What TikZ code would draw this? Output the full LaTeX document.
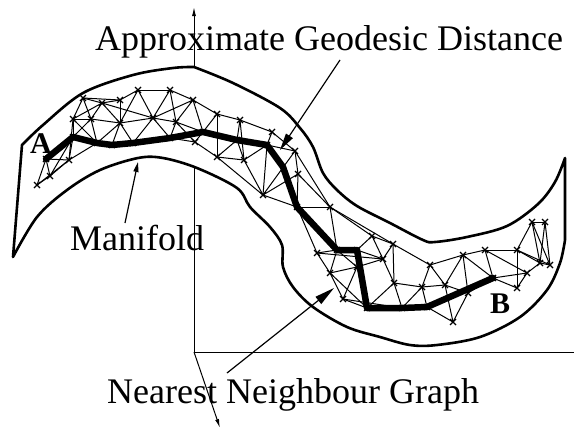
\documentclass[tikz,border=0pt]{standalone}
\usepackage{fontspec}
\setmainfont{Liberation Serif}
\usetikzlibrary{arrows.meta}
\begin{document}
\begin{tikzpicture}[x=1pt,y=-1pt,
  axis/.style={line width=1pt},
  bound/.style={line width=2.6pt, fill=white, line join=round},
  edge/.style={line width=1pt},
  xm/.style={line width=1.2pt},
  geo/.style={line width=6.5pt, line join=round, line cap=round},
  lbl/.style={font=\fontsize{36}{40}\selectfont, inner sep=0pt, anchor=base west},
  ptlbl/.style={font=\bfseries\fontsize{30}{34}\selectfont, inner sep=0pt, anchor=base west},
  ptr/.style={line width=1.2pt}
]
\useasboundingbox (0,0) rectangle (575,431);
% axes
\coordinate (O) at (194,352);
\coordinate (Z) at (194,7);
\coordinate (Xe) at (574,352);
\coordinate (Ye) at (220,428);
\draw[axis,-{Latex[length=9pt,width=4pt]}] (O) -- (Z);
\draw[axis] (O) -- (Xe);
\draw[axis,-{Latex[length=9pt,width=4pt]}] (O) -- (Ye);
% manifold
\filldraw[bound] plot[smooth,tension=0.55] coordinates {(22,145) (43,125) (83,93) (133,75) (173,68) (194,67)}
 -- plot[smooth,tension=0.55] coordinates {(194,67) (233,83) (280,108) (300,128) (313,147) (323,173) (337,190) (357,206) (390,223) (423,240) (435,242) (467,237) (507,226) (538,204) (555,182) (565,158)}
 -- (565,240)
 -- plot[smooth,tension=0.55] coordinates {(565,240) (560,263) (547,290) (520,317) (480,337) (437,345) (410,345) (380,337) (347,327) (313,307) (293,287) (283,267) (282,245) (270,227) (250,207) (237,188) (197,168) (163,158) (138,158) (100,170) (67,190) (37,217) (13,257)}
 -- cycle;
% graph vertices
\coordinate (a1) at (37,185);
\coordinate (a2) at (50,176);
\coordinate (a3) at (46,159);
\coordinate (a4) at (69,160);
\coordinate (a5) at (73,137);
\coordinate (a6) at (73,119);
\coordinate (a7) at (83,98);
\coordinate (a8) at (91,119);
\coordinate (a9) at (102,103);
\coordinate (a10) at (120,100);
\coordinate (a11) at (120,123);
\coordinate (a12) at (97,143);
\coordinate (a13) at (112,145);
\coordinate (a14) at (133,143);
\coordinate (a15) at (138,90);
\coordinate (a16) at (170,90);
\coordinate (a17) at (153,118);
\coordinate (a18) at (176,122);
\coordinate (a19) at (170,138);
\coordinate (a20) at (193,100);
\coordinate (a21) at (195,142);
\coordinate (a22) at (203,132);
\coordinate (a23) at (217,114);
\coordinate (a24) at (217,157);
\coordinate (a25) at (240,120);
\coordinate (a26) at (237,140);
\coordinate (a27) at (244,160);
\coordinate (a28) at (272,132);
\coordinate (a29) at (267,145);
\coordinate (a30) at (263,195);
\coordinate (a31) at (295,151);
\coordinate (a32) at (298,174);
\coordinate (a33) at (297,207);
\coordinate (a34) at (330,207);
\coordinate (a35) at (317,253);
\coordinate (a36) at (337,250);
\coordinate (a37) at (357,250);
\coordinate (a38) at (372,236);
\coordinate (a39) at (393,244);
\coordinate (a40) at (383,259);
\coordinate (a41) at (330,273);
\coordinate (a42) at (357,267);
\coordinate (a43) at (343,299);
\coordinate (a44) at (367,308);
\coordinate (a45) at (394,283);
\coordinate (a46) at (402,308);
\coordinate (a47) at (427,307);
\coordinate (a48) at (430,265);
\coordinate (a49) at (422,287);
\coordinate (a50) at (445,285);
\coordinate (a51) at (453,322);
\coordinate (a52) at (463,255);
\coordinate (a53) at (485,250);
\coordinate (a54) at (468,293);
\coordinate (a55) at (493,278);
\coordinate (a56) at (517,250);
\coordinate (a57) at (517,288);
\coordinate (a58) at (527,273);
\coordinate (a59) at (532,222);
\coordinate (a60) at (545,222);
\coordinate (a61) at (540,263);
\coordinate (a62) at (550,265);
\coordinate (pb) at (283,167);
% graph edges
\foreach \u/\v in {1/2,1/3,1/4,2/3,2/4,2/5,3/4,4/5,4/12,4/6,5/6,5/8,6/7,6/8,6/9,7/9,7/8,7/10,8/9,8/11,8/12,9/10,9/11,10/11,10/15,11/12,11/13,11/17,11/14,12/13,13/14,14/17,15/17,15/16,15/11,16/17,16/18,16/20,17/18,17/19,18/19,18/20,18/22,18/21,19/21,20/23,20/22,21/24,21/22,22/23,23/25,23/24,24/27,24/26,25/28,25/26,26/27,27/29,27/30,28/29,28/31,29/31,29/30,30/32,30/31,30/33,31/32,32/33,32/34,33/34,33/35,34/38,34/36,35/36,35/41,35/40,36/41,36/37,37/38,37/40,37/42,38/39,38/40,39/40,39/48,39/45,40/42,40/45,41/42,41/43,42/43,42/44,43/44,44/45,44/46,45/46,45/49,46/49,46/47,47/49,47/51,48/49,48/50,48/52,49/50,50/51,50/54,51/54,52/53,52/54,53/55,53/56,53/58,54/55,55/57,56/57,56/59,56/61,57/58,58/61,59/60,59/62,59/61,60/61,60/62,61/62,56/62,24/30,34/39,9/17,6/12,14/19,17/20,22/26,25/27,26/29,31/34,36/42,41/44,43/46,50/52,52/55,55/58}
  \draw[edge] (a\u) -- (a\v);
\foreach \i in {1,...,62}
  \draw[xm] (a\i) +(-3,-3) -- +(3,3) +(-3,3) -- +(3,-3);
% geodesic path
\draw[geo] (a3) -- (a5) -- (a12) -- (a13) -- (a14) -- (a19) -- (a22) -- (a26) -- (a29) -- (pb) -- (a33) -- (a36) -- (a37) -- (a44) -- (a46) -- (a47) -- (a55);
% labels
\node[lbl] (tgeo) at (95,50) {Approximate Geodesic Distance};
\node[lbl] (tman) at (70,250) {Manifold};
\node[lbl] (tnn) at (107,403) {Nearest Neighbour Graph};
\node[ptlbl] (tA) at (30,153) {A};
\node[ptlbl] (tB) at (490,313) {B};
% pointers
\coordinate (g0) at (340,60);
\coordinate (g1) at (280,150);
\coordinate (m0) at (125,223);
\coordinate (m1) at (138,162);
\coordinate (n0) at (227,373);
\coordinate (n1) at (334,288);
\draw[ptr,-{Triangle[length=17pt,width=8pt]}] (g0) -- (g1);
\draw[ptr,-{Triangle[length=10pt,width=5pt]}] (m0) -- (m1);
\draw[ptr,-{Triangle[length=20pt,width=9pt]}] (n0) -- (n1);
\end{tikzpicture}
\end{document}
